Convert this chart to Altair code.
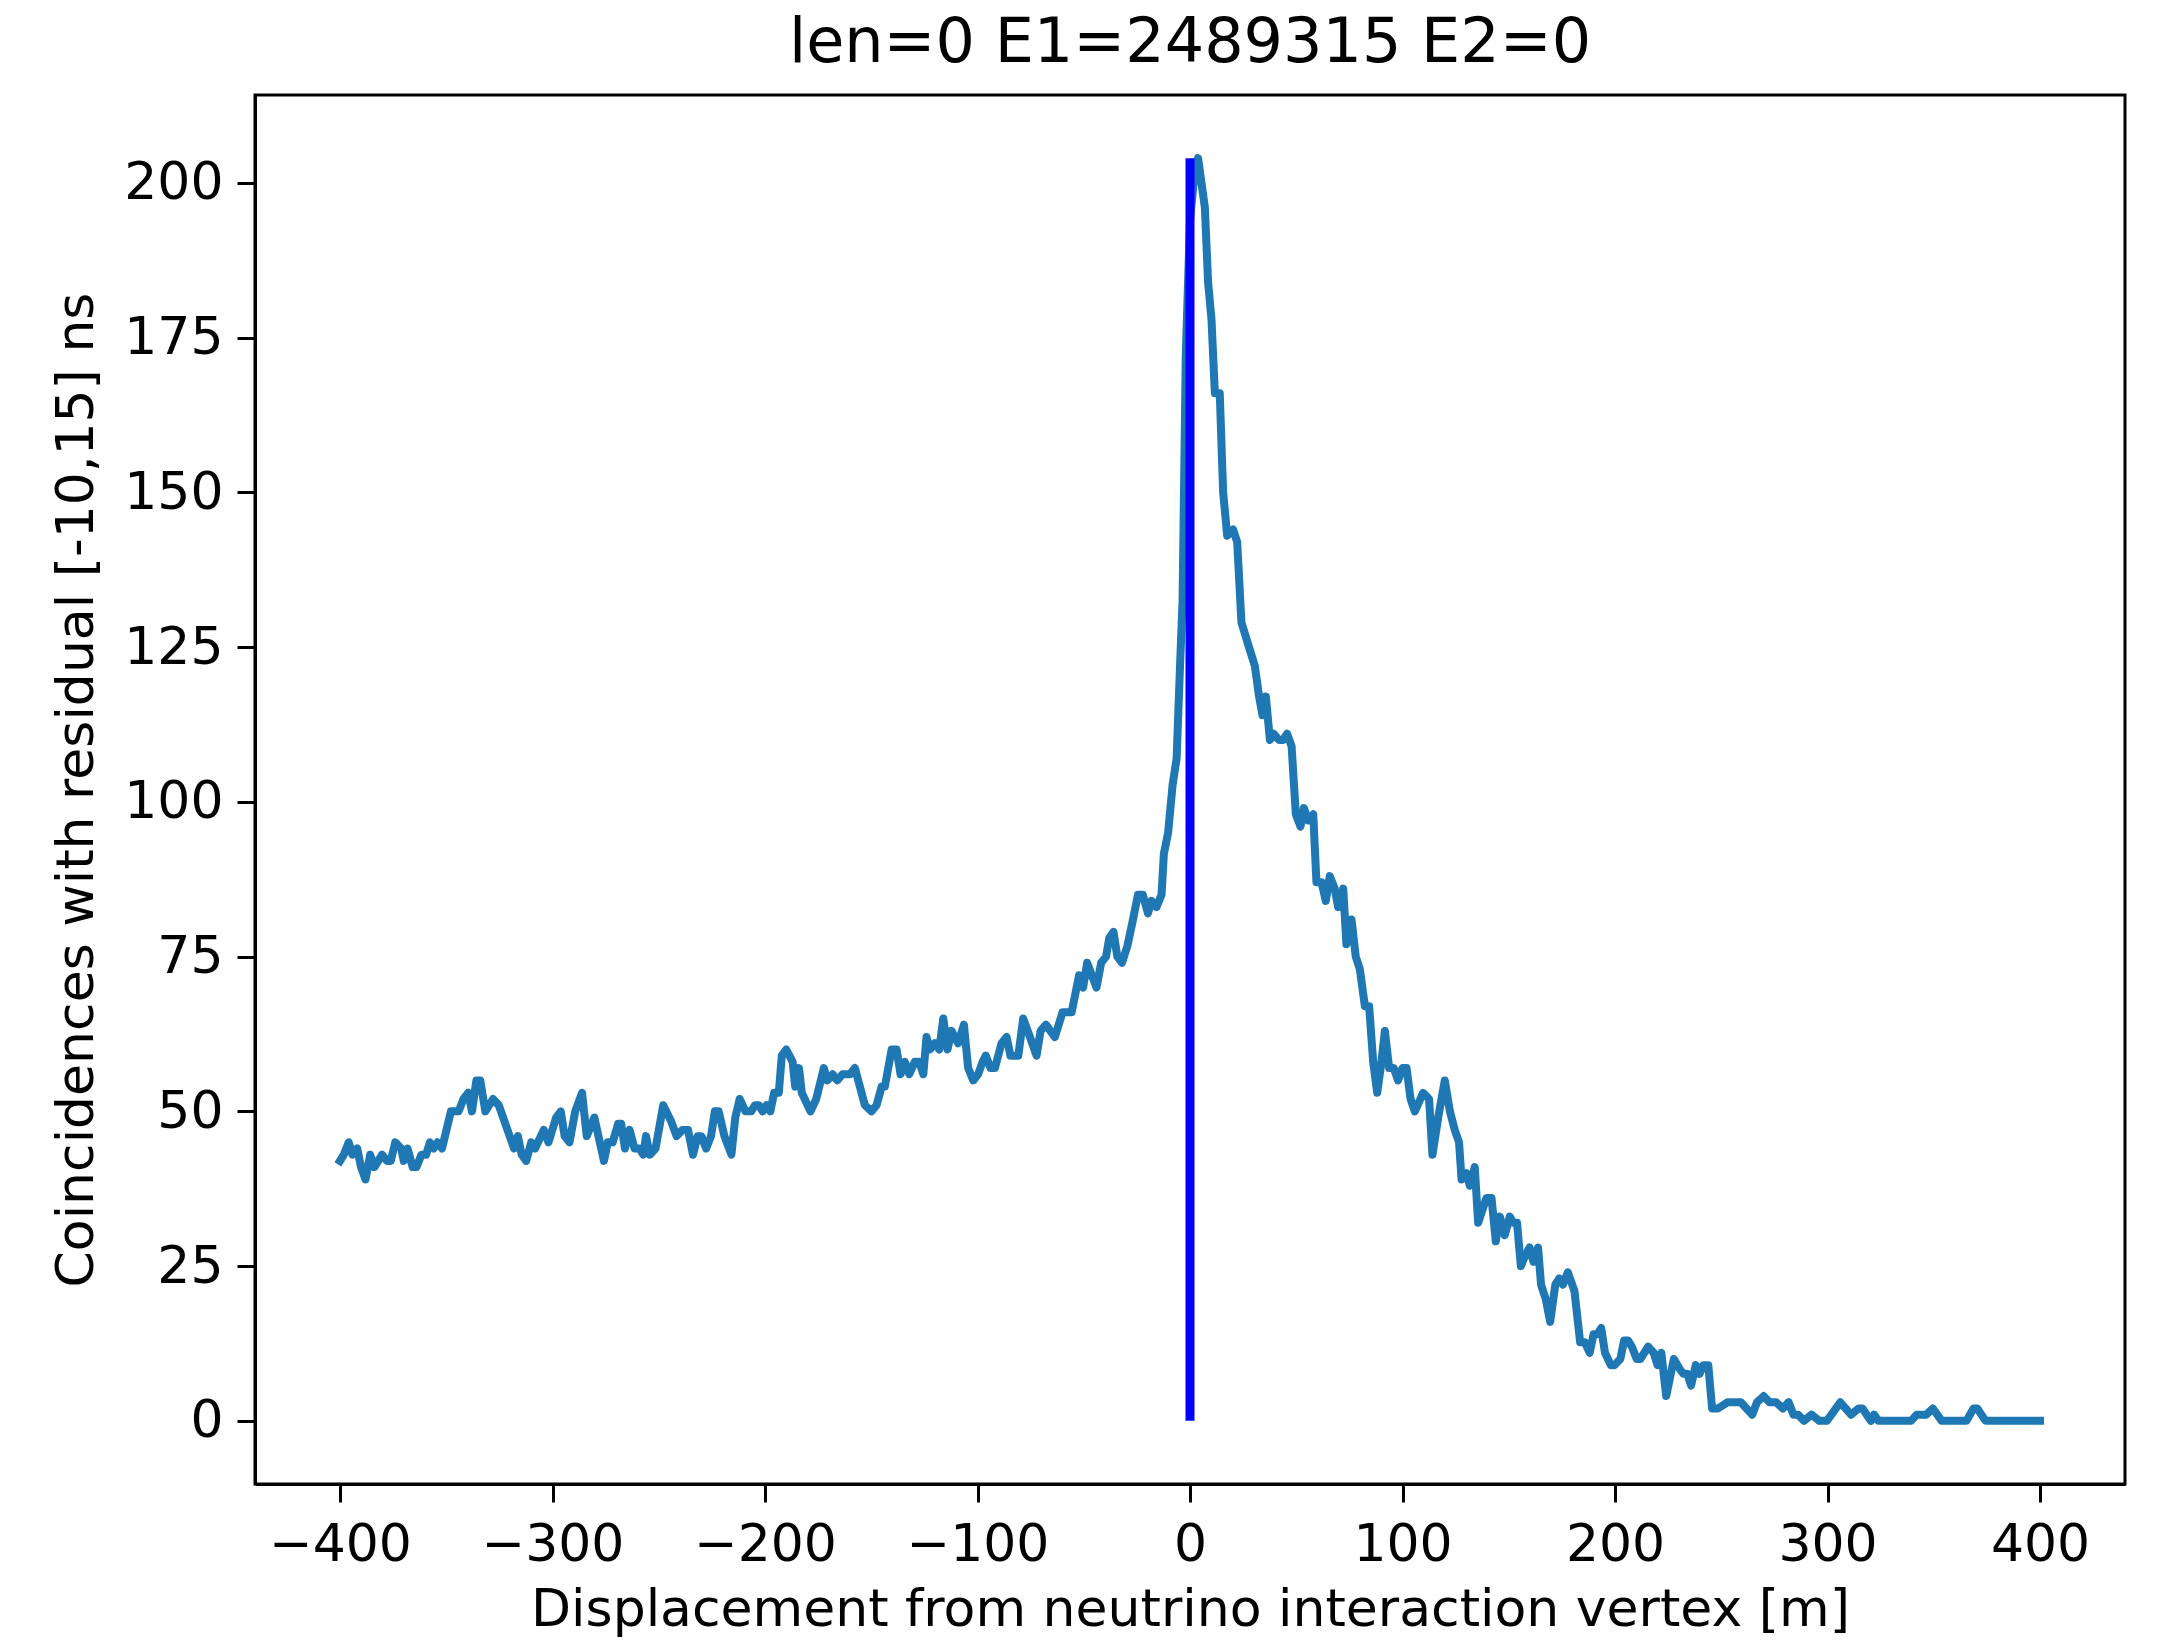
import altair as alt
import pandas as pd

# Displacement [m] and coincidence counts
disp = [
    -400, -398.2, -395.9, -394.1, -391.9, -390.1, -388, -385.8, -383.8, -380.2,
    -377.9, -376.1, -374, -371.2, -370, -368.2, -365.8, -364, -361.7, -359.5,
    -357.7, -355.9, -354.1, -352, -347.8, -344.2, -341.9, -339.7, -337.9, -335.8,
    -334, -331.6, -328, -325.3, -318.1, -316.3, -314.5, -312.4, -310, -308.2,
    -304.1, -301.9, -298.3, -296.1, -294.3, -292, -289.3, -286.1, -283.9, -280.3,
    -275.8, -274, -271.7, -269.1, -267.7, -265.9, -263.7, -261.4, -259.1, -257.3,
    -256, -254.2, -251.5, -247.9, -244.3, -241.6, -238.9, -236.2, -233.9, -231.7,
    -229.9, -227.7, -225.4, -223.6, -221.8, -219.1, -215.8, -214, -211.9, -209.2,
    -206.5, -204.7, -202.9, -201.1, -199.3, -197.5, -195.7, -193.5, -192.1, -190,
    -187, -185.8, -184, -182.7, -178.6, -175.9, -172.3, -170.7, -168.2, -166,
    -163.5, -160, -157.7, -153, -149.9, -147.5, -145.1, -143.6, -140.4, -138.1,
    -136.2, -134.2, -132.1, -129.5, -127.4, -125.5, -124, -122.4, -120.1, -118,
    -116.1, -114.1, -112.2, -109.1, -106.4, -104.4, -102, -99.7, -97.6, -96.1,
    -93.9, -91.8, -88.7, -86.3, -84.5, -80.8, -78.5, -75.3, -72.2, -70.3,
    -67.8, -63.6, -60, -55.7, -52.2, -50.3, -48.4, -44, -41.8, -39.5,
    -38, -36, -34.2, -32, -29.5, -27, -24.5, -22.2, -19.8, -18.1,
    -15.8, -13.4, -12.3, -10.3, -8.2, -6.3, -4.8, -3.5, -2, 0,
    2, 3.8, 5.4, 7, 8.5, 10.1, 11.7, 14, 15.6, 17.5,
    20.3, 22.2, 24.2, 28.2, 30.5, 32.5, 34.1, 35.7, 37.6, 39.4,
    41.9, 43.8, 45.7, 47.8, 49.8, 52, 53.6, 55.6, 58, 59.5,
    61.9, 63.9, 65.8, 68.1, 69.7, 72.1, 73.6, 76, 78, 79.9,
    82.3, 84.3, 86.2, 88.1, 90.1, 91.7, 93.7, 95.9, 97.9, 100,
    101.9, 103.8, 105.8, 109.7, 112.5, 114.1, 116.8, 119.9, 122.3, 124.6,
    126.6, 127.8, 130.1, 131.7, 134, 135.6, 139.5, 141.9, 143.9, 145.8,
    148.1, 150.5, 152.1, 153.9, 155.7, 157.5, 159.8, 161.6, 163.8, 165.2,
    167.4, 169.5, 171.9, 173.7, 175.5, 177.8, 180.9, 183.6, 185.8, 188.1,
    189.9, 191.7, 193.5, 195.3, 198, 199.8, 202.5, 204.3, 206.1, 207.9,
    210.2, 212, 215.6, 218.2, 220, 221.8, 224.1, 225.9, 227.7, 230.4,
    232.2, 234, 235.8, 238, 239.8, 241.6, 243.9, 245.7, 248.4, 252.9,
    259.2, 264.6, 266.8, 270, 272.7, 275.8, 279, 281.7, 284, 286.2,
    288.9, 292.5, 296.1, 299.7, 306, 311.1, 314.7, 316.5, 320.4, 321.9,
    324, 339.3, 342, 346.5, 349.6, 353.7, 365.4, 368.7, 370.5, 374.4,
    400,
]
coinc = [
    42, 43, 45, 43, 44, 41, 39, 43, 41, 43,
    42, 42, 45, 44, 42, 44, 41, 41, 43, 43,
    45, 44, 45, 44, 50, 50, 52, 53, 50, 55,
    55, 50, 52, 51, 44, 46, 43, 42, 45, 44,
    47, 45, 49, 50, 46, 45, 50, 53, 46, 49,
    42, 45, 45, 48, 48, 44, 47, 44, 44, 43,
    46, 43, 44, 51, 48.5, 46, 47, 47, 43, 46,
    46, 44, 46, 50, 50, 46, 43, 49, 52, 50,
    50, 51, 51, 50, 51, 50, 53, 53, 59, 60,
    58, 54, 57, 53, 50, 52, 57, 55, 56, 55,
    56, 56, 57, 51, 50, 51, 54, 54, 60, 60,
    56, 58, 56, 58, 58, 56, 62, 60, 61, 60,
    65, 60, 63, 61, 64, 57, 55, 56, 58, 59,
    57, 57, 61, 62, 59, 59, 65, 62, 59, 63,
    64, 62, 66, 66, 72, 70, 74, 70, 74, 75,
    78, 79, 75, 74, 76.7, 80.7, 85, 85, 82, 84,
    83, 85, 91.6, 95, 102.7, 107, 121, 132.5, 172, 194,
    201, 204, 200, 196, 184, 178, 166, 166, 150, 143,
    144, 142, 129, 124.5, 122, 117, 114, 117, 110, 111,
    110, 110, 111, 109, 98, 96, 99, 97, 98, 87,
    87, 84, 88, 86, 83, 86, 77, 81, 75, 73,
    67, 67, 58, 53, 58, 63, 57, 57, 55, 57,
    57, 52, 50, 53, 52, 43, 49, 55, 50, 47,
    45, 39, 40, 38, 41, 32, 36, 36, 29, 33,
    30, 33, 32, 32, 25, 26.5, 28, 25.7, 28, 22,
    19.7, 16, 22, 23, 22, 24, 21, 12.7, 12.7, 11,
    14, 14, 15, 11, 9, 9, 10, 13, 13, 12,
    10, 10, 12, 11, 9, 11, 4, 7, 10, 8.4,
    7.6, 7.6, 5.7, 9, 7.6, 9, 9, 2, 2, 3,
    3, 1, 3, 4, 3, 3, 2, 3, 1, 1,
    0, 1, 0, 0, 3, 1, 2, 2, 0, 1,
    0, 0, 1, 1, 2, 0, 0, 2, 2, 0,
    0,
]

vline_x = [0]
vline_bottom = [0]
vline_top = [204]

x_ticks = [-400, -300, -200, -100, 0, 100, 200, 300, 400]
y_ticks = [0, 25, 50, 75, 100, 125, 150, 175, 200]

df = pd.DataFrame({"x": disp, "y": coinc})
vdf = pd.DataFrame({"x": vline_x, "y": vline_bottom, "y2": vline_top})

FONT = "DejaVu Sans"
FS = 52

x_scale = alt.Scale(domain=[-440, 440], nice=False, zero=False)
y_scale = alt.Scale(domain=[-10.2, 214.2], nice=False, zero=False)

common_axis = dict(
    grid=False,
    labelFont=FONT, labelFontSize=FS, labelColor="black",
    titleFont=FONT, titleFontSize=FS, titleFontWeight="normal", titleColor="black",
    tickColor="black", tickWidth=3, tickSize=18,
    domainColor="black", domainWidth=3,
)

line = alt.Chart(df).mark_line(
    color="#1f77b4", strokeWidth=8, strokeCap="square", strokeJoin="round"
).encode(
    x=alt.X("x:Q", scale=x_scale,
            axis=alt.Axis(values=x_ticks, format="d", labelPadding=17,
                          title="Displacement from neutrino interaction vertex [m]",
                          titlePadding=14, **common_axis)),
    y=alt.Y("y:Q", scale=y_scale,
            axis=alt.Axis(values=y_ticks, format="d", labelPadding=14,
                          title="Coincidences with residual [-10,15] ns",
                          titlePadding=20, **common_axis)),
)

rule = alt.Chart(vdf).mark_rule(color="#0000ff", strokeWidth=9).encode(
    x=alt.X("x:Q", scale=x_scale),
    y=alt.Y("y:Q", scale=y_scale),
    y2="y2:Q",
)

chart = alt.layer(line, rule).properties(
    width=1870,
    height=1389,
    autosize=alt.AutoSizeParams(type="none"),
    padding={"left": 255, "top": 95, "right": 36, "bottom": 161},
    title=alt.TitleParams(
        "len=0 E1=2489315 E2=0", font=FONT, fontSize=62, fontWeight="normal",
        color="black", anchor="middle", offset=20,
    ),
    background="white",
).configure_view(stroke="black", strokeWidth=3)

chart.save("out.html", embed_options={"renderer": "svg", "actions": False})
